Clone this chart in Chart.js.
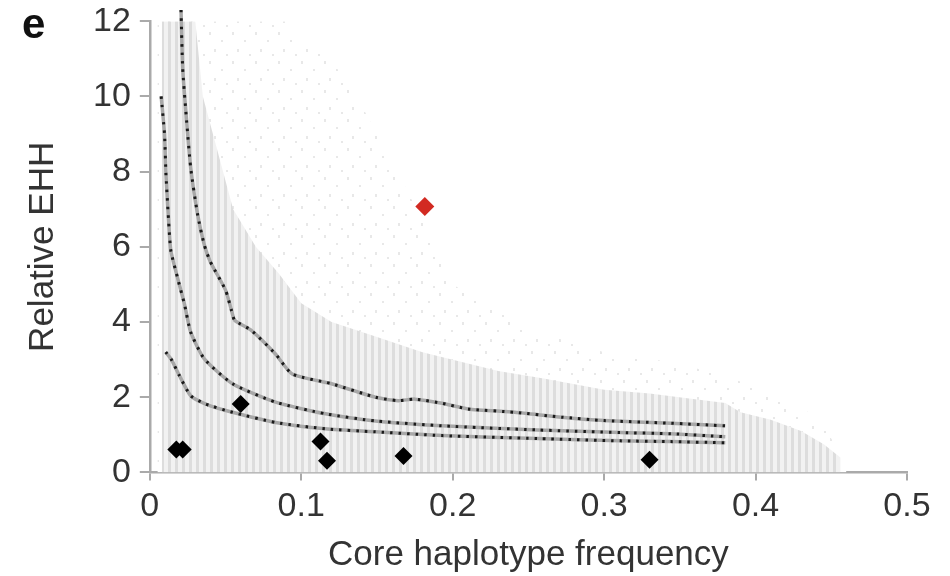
<!DOCTYPE html>
<html>
<head>
<meta charset="utf-8">
<script src="https://cdn.jsdelivr.net/npm/chart.js@4.4.1/dist/chart.umd.min.js"></script>
<style>
  html, body { margin: 0; padding: 0; background: #fff; }
  #wrap { position: relative; width: 950px; height: 576px; }
  #panel {
    position: absolute; left: 22px; top: 0px;
    font: bold 42px "Liberation Sans", Arial, sans-serif; color: #111;
  }
</style>
</head>
<body>
<div id="wrap">
  <canvas id="myChart"></canvas>
  <div id="panel">e</div>
</div>
<script>
// percentile curves of simulated relative EHH: [frequency, rEHH]
var upperCurve = [[0.0206, 12.3], [0.0217, 10.75], [0.024, 9.5], [0.027, 8.1], [0.0316, 6.85],
  [0.036, 6.05], [0.040, 5.6], [0.050, 4.85], [0.054, 4.3], [0.056, 4.05], [0.067, 3.78],
  [0.083, 3.15], [0.094, 2.62], [0.12, 2.36], [0.149, 2.0], [0.164, 1.91], [0.175, 1.95],
  [0.193, 1.84], [0.21, 1.69], [0.241, 1.6], [0.272, 1.47], [0.30, 1.38], [0.344, 1.31], [0.38, 1.24]];
var middleCurve = [[0.0075, 10.0], [0.0097, 9.0], [0.0107, 7.9], [0.013, 6.3], [0.014, 5.87],
  [0.0184, 5.16], [0.0228, 4.49], [0.027, 3.73], [0.036, 3.02], [0.0546, 2.36], [0.083, 1.87],
  [0.116, 1.56], [0.149, 1.37], [0.193, 1.24], [0.256, 1.13], [0.311, 1.06], [0.344, 1.03], [0.38, 0.95]];
var lowerCurve = [[0.0105, 3.2], [0.014, 3.02], [0.0195, 2.58], [0.027, 2.04], [0.037, 1.82],
  [0.0546, 1.6], [0.083, 1.33], [0.116, 1.16], [0.149, 1.08], [0.193, 0.98], [0.256, 0.9],
  [0.311, 0.84], [0.344, 0.82], [0.38, 0.79]];

// upper edge of the dense cloud of simulated loci
var cloudTop = [[0.008, 0.2], [0.008, 12], [0.03, 12], [0.035, 10], [0.045, 8.5], [0.055, 7],
  [0.07, 6], [0.085, 5.3], [0.1, 4.5], [0.12, 4], [0.15, 3.6], [0.18, 3.2], [0.2, 3.0],
  [0.23, 2.7], [0.26, 2.5], [0.3, 2.2], [0.33, 2.1], [0.36, 1.95], [0.38, 1.85], [0.39, 1.6],
  [0.41, 1.4], [0.43, 1.1], [0.445, 0.75], [0.456, 0.4], [0.456, 0.2]];
// outline of the sparse outliers around it
var haloTop = [[0.005, 0.2], [0.005, 12], [0.09, 12], [0.13, 10.5], [0.17, 7.5], [0.2, 5],
  [0.25, 3.8], [0.3, 3.2], [0.35, 2.9], [0.4, 2.3], [0.44, 1.5], [0.46, 0.3]];

// observed core haplotypes
var coreFreq = [0.0175, 0.0217, 0.060, 0.1127, 0.117, 0.1675, 0.330];
var coreEHH = [0.61, 0.61, 1.82, 0.82, 0.31, 0.44, 0.34];
var highlightFreq = [0.1816];
var highlightEHH = [7.07];

var xTicks = [0, 0.1, 0.2, 0.3, 0.4, 0.5];
var yTicks = [0, 2, 4, 6, 8, 10, 12];

function toPoints(pairs) {
  return pairs.map(function(p) { return { x: p[0], y: p[1] }; });
}
function zipPoints(xs, ys) {
  return xs.map(function(x, i) { return { x: x, y: ys[i] }; });
}

// vertical stripes for the simulated columns
function stripePattern(dark, light, w, gap) {
  var c = document.createElement('canvas');
  c.width = w + gap; c.height = 4;
  var g = c.getContext('2d');
  g.fillStyle = light; g.fillRect(0, 0, w + gap, 4);
  g.fillStyle = dark; g.fillRect(0, 0, w, 4);
  return g.createPattern(c, 'repeat');
}
// scattered faint specks for the outliers
function speckPattern() {
  var c = document.createElement('canvas');
  c.width = 23; c.height = 29;
  var g = c.getContext('2d');
  g.fillStyle = '#fff'; g.fillRect(0, 0, 23, 29);
  g.fillStyle = '#e8e8e8';
  g.fillRect(2, 3, 2, 3); g.fillRect(14, 11, 2, 2); g.fillRect(7, 20, 2, 3); g.fillRect(19, 25, 2, 2);
  return g.createPattern(c, 'repeat');
}

var font = "'Liberation Sans', Arial, sans-serif";
var curveBase = { type: 'line', showLine: true, pointRadius: 0, fill: false, tension: 0.2, clip: false };

var ctx = document.getElementById('myChart').getContext('2d');
var myChart = new Chart(ctx, {
  type: 'scatter',
  data: {
    datasets: [
      { type: 'line', data: toPoints(haloTop), showLine: true, pointRadius: 0, borderWidth: 0,
        fill: 'origin', backgroundColor: speckPattern(), order: 9 },
      { type: 'line', data: toPoints(cloudTop), showLine: true, pointRadius: 0, borderWidth: 0,
        fill: 'origin', backgroundColor: stripePattern('#dddddd', '#f2f2f2', 3, 4), order: 8 },
      Object.assign({}, curveBase, { data: toPoints(upperCurve), borderColor: '#a8a8a8', borderWidth: 3.5, order: 7 }),
      Object.assign({}, curveBase, { data: toPoints(middleCurve), borderColor: '#a8a8a8', borderWidth: 3.5, order: 7 }),
      Object.assign({}, curveBase, { data: toPoints(lowerCurve), borderColor: '#a8a8a8', borderWidth: 3.5, order: 7 }),
      Object.assign({}, curveBase, { data: toPoints(upperCurve), borderColor: '#1a1a1a', borderWidth: 3, borderDash: [2.5, 6], order: 6 }),
      Object.assign({}, curveBase, { data: toPoints(middleCurve), borderColor: '#1a1a1a', borderWidth: 3, borderDash: [2.5, 6], order: 6 }),
      Object.assign({}, curveBase, { data: toPoints(lowerCurve), borderColor: '#1a1a1a', borderWidth: 3, borderDash: [2.5, 6], order: 6 }),
      { data: zipPoints(coreFreq, coreEHH), pointStyle: 'rectRot', pointRadius: 9,
        backgroundColor: '#000', borderColor: '#000', borderWidth: 0, order: 2 },
      { data: zipPoints(highlightFreq, highlightEHH), pointStyle: 'rectRot', pointRadius: 9.5,
        backgroundColor: '#d22a22', borderColor: '#d22a22', borderWidth: 0, order: 1 }
    ]
  },
  options: {
    responsive: true,
    maintainAspectRatio: false,
    animation: false,
    layout: { padding: { top: 0, right: 43, left: 22, bottom: 0 } },
    plugins: { legend: { display: false }, tooltip: { enabled: false } },
    scales: {
      x: {
        type: 'linear', min: 0, max: 0.5,
        afterBuildTicks: function(axis) { axis.ticks = xTicks.map(function(v) { return { value: v }; }); },
        ticks: {
          font: { family: font, size: 34 }, color: '#333', padding: 6,
          callback: function(v) { return String(Math.round(v * 10) / 10); }
        },
        grid: { drawOnChartArea: false, tickLength: 8, color: '#aaa', lineWidth: 2 },
        border: { color: '#aaa', width: 2.5 },
        title: { display: true, text: 'Core haplotype frequency', font: { family: font, size: 35, lineHeight: 1.05 },
          color: '#333', padding: { top: 4, bottom: 2 } }
      },
      y: {
        min: 0, max: 12,
        afterBuildTicks: function(axis) { axis.ticks = yTicks.map(function(v) { return { value: v }; }); },
        ticks: { font: { family: font, size: 34, lineHeight: 0.72 }, color: '#333', padding: 9 },
        grid: { drawOnChartArea: false, tickLength: 10, color: '#aaa', lineWidth: 2 },
        border: { color: '#aaa', width: 2.5 },
        title: { display: true, text: 'Relative EHH', font: { family: font, size: 35 },
          color: '#333', padding: { top: 0, bottom: 20 } }
      }
    }
  }
});
</script>
</body>
</html>
